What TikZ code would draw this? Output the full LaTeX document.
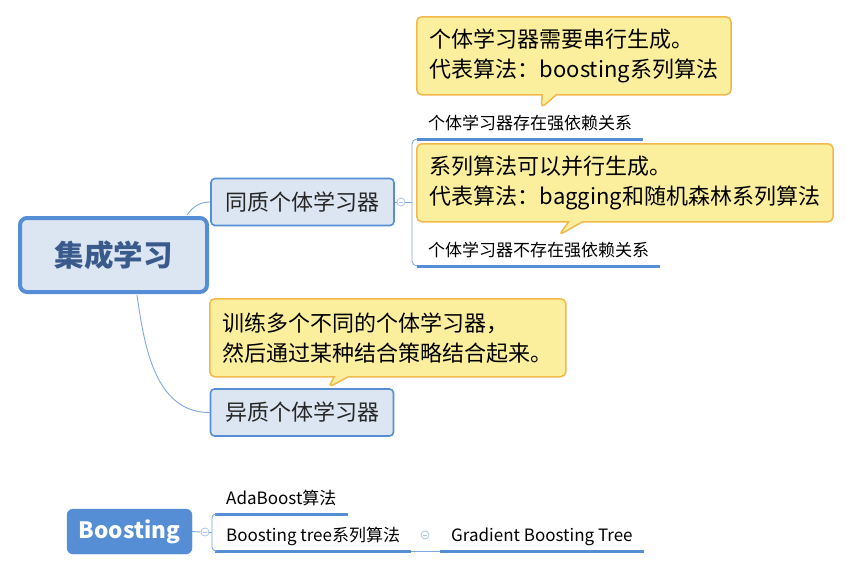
\documentclass[tikz,border=0pt]{standalone}
\usepackage{fontspec}
\setmainfont{Noto Sans CJK SC}
\usetikzlibrary{shapes.callouts,calc}
\definecolor{topicfill}{HTML}{DCE6F2}
\definecolor{topicline}{HTML}{558ED5}
\definecolor{roottext}{HTML}{3A5A8C}
\definecolor{notefill}{HTML}{FBEF9D}
\definecolor{noteline}{HTML}{F2B84B}
\definecolor{branchcolor}{HTML}{7FA7DC}
\definecolor{foldcolor}{HTML}{A9C4EA}
\tikzset{
  roottopic/.style={draw=topicline,fill=topicfill,line width=4pt,rounded corners=7pt,
    minimum width=187pt,minimum height=74pt,font=\fontsize{29.5}{32}\selectfont\bfseries,text=roottext},
  subtopic/.style={draw=topicline,fill=topicfill,line width=1.6pt,rounded corners=4pt,
    minimum width=183pt,minimum height=47pt,font=\fontsize{22}{24}\selectfont,text=black!85},
  leaf/.style={anchor=south west,inner xsep=11pt,inner ysep=5pt,text depth=4pt,
    font=\fontsize{17}{19}\selectfont},
  uline/.style={draw=topicline,line width=3pt},
  branch/.style={draw=branchcolor,line width=0.9pt},
  note/.style={rectangle callout,draw=noteline,fill=notefill,line width=1.5pt,rounded corners=5pt,
    callout pointer width=14pt,anchor=north west,align=left,inner xsep=13pt,minimum height=78pt,
    font=\fontsize{22}{30}\selectfont},
  fold/.style={circle,draw=foldcolor,fill=white,line width=0.8pt,minimum size=8pt,inner sep=0pt,
    path picture={\draw[foldcolor,line width=0.8pt] ([xshift=-2pt]path picture bounding box.center) -- ([xshift=2pt]path picture bounding box.center);}}
}
\begin{document}
\begin{tikzpicture}[x=1pt,y=-1pt]
  \useasboundingbox (0,0) rectangle (858,571);
  % main map
  \node [roottopic] (root) at (113.5,255) {集成学习};
  \node [subtopic] (homo) at (302.5,202) {同质个体学习器};
  \node [subtopic] (hetero) at (302,412.5) {异质个体学习器};
  \draw [branch] ($(root.north east)+(-22,-1)$) to[out=55,in=180] (homo.west);
  \draw [branch] ($(root.south west)+(119,1)$) to[out=-82,in=180] (hetero.west);
  % leaves of homo
  \node [leaf] (dep) at (417,139) {个体学习器存在强依赖关系};
  \node [leaf] (nodep) at (417,266) {个体学习器不存在强依赖关系};
  \draw [uline] (dep.south west) -- (dep.south east);
  \draw [uline] (nodep.south west) -- (nodep.south east);
  \node [fold] (fold1) at (401,202) {};
  \coordinate (fork1) at (412,202);
  \draw [branch] (homo.east) -- (fold1.west);
  \draw [branch] (fold1.east) -- (fork1);
  \draw [branch,rounded corners=5pt] (dep.south west) -| (fork1) |- (nodep.south west);
  % notes
  \node [note,callout absolute pointer={(541,108)}] (note1) at (416,16)
    {个体学习器需要串行生成。\\代表算法：boosting系列算法};
  \node [note,callout absolute pointer={(559,235)}] (note2) at (416,143)
    {系列算法可以并行生成。\\代表算法：bagging和随机森林系列算法};
  \node [note,callout absolute pointer={($(hetero.north west)+(119,-1)$)}] (note3) at (209,298)
    {训练多个不同的个体学习器，\\然后通过某种结合策略结合起来。};
  % boosting map
  \node [draw=topicline,fill=topicline,rounded corners=6pt,minimum width=125pt,minimum height=45pt,
    font=\fontsize{22.5}{24}\selectfont\bfseries,text=white] (boost) at (129.5,531.5) {Boosting};
  \node [fold] (fold2) at (205,532) {};
  \node [leaf] (ada) at (215,514) {AdaBoost算法};
  \node [leaf] (btree) at (215,551) {Boosting tree系列算法};
  \node [leaf] (gbt) at (440,551) {Gradient Boosting Tree};
  \draw [uline] (ada.south west) -- (ada.south east);
  \draw [uline] (btree.south west) -- (btree.south east);
  \draw [uline] (gbt.south west) -- (gbt.south east);
  \coordinate (fork2) at (212,532);
  \draw [branch] (boost.east) -- (fold2.west);
  \draw [branch] (fold2.east) -- (fork2);
  \draw [branch,rounded corners=4pt] (ada.south west) -| (fork2) |- (btree.south west);
  \node [fold] (fold3) at (425,535) {};
  \draw [branch] (btree.south east) -- (gbt.south west);
\end{tikzpicture}
\end{document}
